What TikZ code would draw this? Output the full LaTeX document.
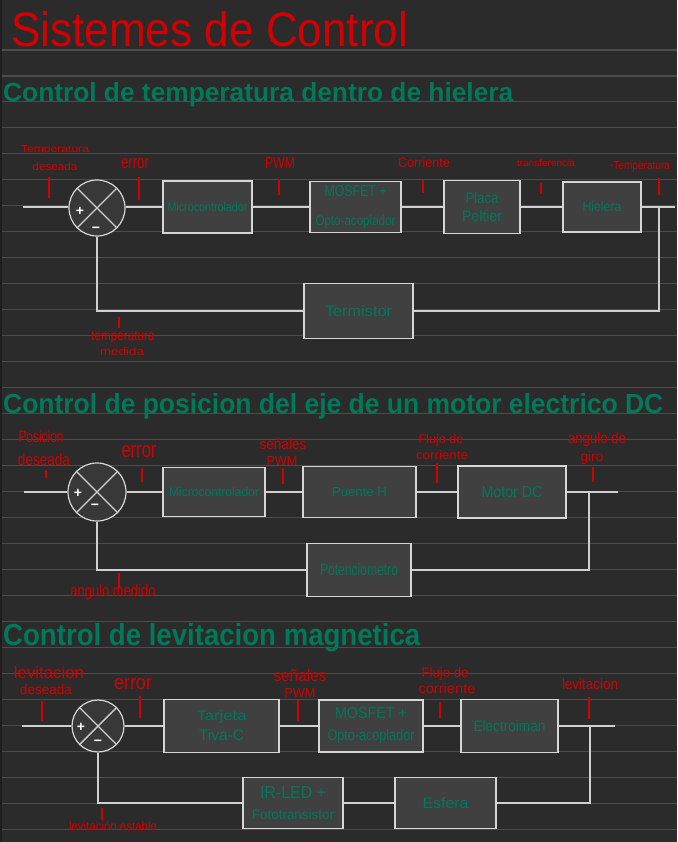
\documentclass[tikz,border=0pt]{standalone}
\usepackage{fontspec}
\setmainfont{Liberation Sans}
\definecolor{bg}{HTML}{2B2B2B}
\definecolor{rulecol}{HTML}{4C4C4C}
\definecolor{edgecol}{HTML}{1E1E1E}
\definecolor{boxfill}{HTML}{404040}
\definecolor{sumfill}{HTML}{383838}
\definecolor{boxline}{HTML}{D6D6D6}
\definecolor{conncol}{HTML}{D0D0D0}
\definecolor{redink}{HTML}{D20000}
\definecolor{greenink}{HTML}{00785A}
\newcommand{\fw}[3]{\resizebox{#1pt}{#2pt}{#3}}
\begin{document}
\begin{tikzpicture}[x=1pt,y=-1pt,
  blk/.style={draw=boxline, fill=boxfill, line width=1.4pt, inner sep=0pt, text=greenink, align=center},
  sumnode/.style={circle, draw=boxline, fill=sumfill, line width=1.2pt, inner sep=0pt},
  conn/.style={draw=conncol, line width=1.4pt},
  tickmark/.style={draw=redink, line width=1.1pt},
  lbl/.style={text=redink, inner sep=0pt},
  hd/.style={text=greenink, inner sep=0pt, anchor=base west, font=\bfseries},
  sgn/.style={text=white, inner sep=0pt, font=\fontsize{14}{14}\selectfont\bfseries}
]
% background and ruling
\fill[bg] (0,0) rectangle (677,842);
\useasboundingbox (0,0) rectangle (677,842);
\fill[edgecol] (0,0) rectangle (2,842);
\foreach \k in {0,...,30} \draw[rulecol, line width=1.1pt] (2,{50+25.97*\k}) -- (677,{50+25.97*\k});

% titles
\node[lbl, anchor=base west] (title) at (11,47) {\fw{397}{35}{Sistemes de Control}};
\node[hd] (h1) at (3,102) {\fw{510}{19}{Control de temperatura dentro de hielera}};
\node[hd] (h2) at (3,413) {\fw{660}{20}{Control de posicion del eje de un motor electrico DC}};
\node[hd] (h3) at (3,645) {\fw{417}{22}{Control de levitacion magnetica}};

% ================= Diagram 1 =================
\node[sumnode, minimum size=56pt] (s1) at (97,208) {};
\draw[conn] (s1.north west) -- (s1.south east) (s1.north east) -- (s1.south west);
\node[sgn] (p1) at (80,211) {+};
\node[sgn] (m1) at (96,230) {−};
\node[blk, minimum width=89pt, minimum height=52pt] (a1) at (207.5,207) {\fw{80}{9}{Microcontrolador}};
\node[blk, minimum width=91pt, minimum height=51pt, font=\fontsize{10}{29pt}\selectfont] (a2) at (355.5,207) {\fw{62}{11}{MOSFET +}\\\fw{80}{10}{Opto-acoplador}};
\node[blk, minimum width=76pt, minimum height=53pt, font=\fontsize{10}{18pt}\selectfont] (a3) at (482,207) {\fw{33}{11}{Placa}\\\fw{40}{11}{Peltier}};
\node[blk, minimum width=78pt, minimum height=50pt] (a4) at (602,207) {\fw{39}{10}{Hielera}};
\node[blk, minimum width=109pt, minimum height=55pt] (a5) at (358.5,311) {\fw{67}{11}{Termistor}};
\coordinate (in1) at (23,207);
\coordinate (o1) at (659,207);
\coordinate (out1) at (675,207);
\draw[conn] (in1) -- (in1 -| s1.west);
\draw[conn] (s1.east |- in1) -- (a1.west);
\draw[conn] (a1.east) -- (a2.west);
\draw[conn] (a2.east) -- (a3.west);
\draw[conn] (a3.east) -- (a4.west);
\draw[conn] (a4.east) -- (out1);
\draw[conn] (o1) |- (a5.east);
\draw[conn] (a5.west) -| (s1.south);
% labels
\node[lbl] (l1a) at (55,150) {\fw{68}{7}{Temperatura}};
\node[lbl] (l1b) at (55,167) {\fw{45}{8}{deseada}};
\node[lbl] (l1c) at (135,164) {\fw{28}{10}{error}};
\node[lbl] (l1d) at (280,163) {\fw{30}{11}{PWM}};
\node[lbl] (l1e) at (424,163) {\fw{52}{10}{Corriente}};
\node[lbl] (l1f) at (546,163) {\fw{58}{7}{transferencia}};
\node[lbl] (l1g) at (640,167) {\fw{60}{8}{-Temperatura}};
\node[lbl] (l1h) at (123,337) {\fw{63}{9}{temperatura}};
\node[lbl] (l1i) at (122,352) {\fw{44}{8}{medida}};
\draw[tickmark] (49,177) -- (49,198);
\draw[tickmark] (139,177) -- (139,200);
\draw[tickmark] (279,179) -- (279,195);
\draw[tickmark] (423,180) -- (423,193);
\draw[tickmark] (541,183) -- (541,194);
\draw[tickmark] (659,178) -- (659,195);
\draw[tickmark] (119,317) -- (119,328);

% ================= Diagram 2 =================
\node[sumnode, minimum size=58pt] (s2) at (97,492) {};
\draw[conn] (s2.north west) -- (s2.south east) (s2.north east) -- (s2.south west);
\node[sgn] (p2) at (78,493) {+};
\node[sgn] (m2) at (95,507) {−};
\node[blk, minimum width=102pt, minimum height=49pt] (b1) at (214,492) {\fw{90}{9}{Microcontrolador}};
\node[blk, minimum width=113pt, minimum height=51pt] (b2) at (359.5,492) {\fw{55}{9}{Puente H}};
\node[blk, minimum width=108pt, minimum height=52pt] (b3) at (512,492) {\fw{61}{11}{Motor DC}};
\node[blk, minimum width=104pt, minimum height=53pt] (b4) at (359,570) {\fw{78}{12}{Potenciometro}};
\coordinate (in2) at (24,492);
\coordinate (o2) at (589,492);
\coordinate (out2) at (618,492);
\draw[conn] (in2) -- (s2.west);
\draw[conn] (s2.east) -- (b1.west);
\draw[conn] (b1.east) -- (b2.west);
\draw[conn] (b2.east) -- (b3.west);
\draw[conn] (b3.east) -- (out2);
\draw[conn] (o2) |- (b4.east);
\draw[conn] (b4.west) -| (s2.south);
\node[lbl] (l2a) at (41,437) {\fw{45}{12}{Posicion}};
\node[lbl] (l2b) at (44,460) {\fw{52}{12}{deseada}};
\node[lbl] (l2c) at (139,452) {\fw{35}{12}{error}};
\node[lbl] (l2d) at (283,444) {\fw{47}{11}{señales}};
\node[lbl] (l2e) at (282,461) {\fw{31}{9}{PWM}};
\node[lbl] (l2f) at (441,440) {\fw{45}{9}{Flujo de}};
\node[lbl] (l2g) at (442,455) {\fw{52}{9}{corriente}};
\node[lbl] (l2h) at (597,440) {\fw{58}{11}{angulo de}};
\node[lbl] (l2i) at (592,458) {\fw{23}{10}{giro}};
\node[lbl] (l2j) at (113,592) {\fw{85}{12}{angulo medido}};
\draw[tickmark] (46,470) -- (46,478);
\draw[tickmark] (142,468) -- (142,482);
\draw[tickmark] (283,468) -- (283,484);
\draw[tickmark] (437,463) -- (437,483);
\draw[tickmark] (593,467) -- (593,482);
\draw[tickmark] (119,573) -- (119,588);

% ================= Diagram 3 =================
\node[sumnode, minimum size=52pt] (s3) at (98,726) {};
\draw[conn] (s3.north west) -- (s3.south east) (s3.north east) -- (s3.south west);
\node[sgn] (p3) at (81,727) {+};
\node[sgn] (m3) at (98,743) {−};
\node[blk, minimum width=115pt, minimum height=53pt, font=\fontsize{10}{20pt}\selectfont] (c1) at (221.5,726) {\fw{50}{10}{Tarjeta}\\\fw{45}{11}{Tiva-C}};
\node[blk, minimum width=104pt, minimum height=52pt, font=\fontsize{10}{22pt}\selectfont] (c2) at (371,726) {\fw{72}{11}{MOSFET +}\\\fw{87}{11}{Opto-acoplador}};
\node[blk, minimum width=97pt, minimum height=53pt] (c3) at (509.5,726) {\fw{72}{11}{Electroiman}};
\node[blk, minimum width=101pt, minimum height=51pt] (c4) at (445.5,803) {\fw{46}{11}{Esfera}};
\node[blk, minimum width=100pt, minimum height=51pt, font=\fontsize{10}{21pt}\selectfont] (c5) at (293,803) {\fw{66}{12}{IR-LED +}\\\fw{82}{10}{Fototransistor}};
\coordinate (in3) at (22,726);
\coordinate (o3) at (590,726);
\coordinate (out3) at (615,726);
\draw[conn] (in3) -- (s3.west);
\draw[conn] (s3.east) -- (c1.west);
\draw[conn] (c1.east) -- (c2.west);
\draw[conn] (c2.east) -- (c3.west);
\draw[conn] (c3.east) -- (out3);
\draw[conn] (o3) |- (c4.east);
\draw[conn] (c4.west) -- (c5.east);
\draw[conn] (c5.west) -| (s3.south);
\node[lbl] (l3a) at (49,673) {\fw{70}{12}{levitacion}};
\node[lbl] (l3b) at (46,690) {\fw{52}{10}{deseada}};
\node[lbl] (l3c) at (133,684) {\fw{38}{11}{error}};
\node[lbl] (l3d) at (300,676) {\fw{53}{12}{señales}};
\node[lbl] (l3e) at (300,693) {\fw{31}{9}{PWM}};
\node[lbl] (l3f) at (445,674) {\fw{47}{10}{Flujo de}};
\node[lbl] (l3g) at (447,689) {\fw{57}{10}{corriente}};
\node[lbl] (l3h) at (590,684) {\fw{56}{11}{levitacion}};
\node[lbl] (l3i) at (113,826) {\fw{88}{9}{levitación estable}};
\draw[tickmark] (42,701) -- (42,721);
\draw[tickmark] (140,696) -- (140,718);
\draw[tickmark] (298,700) -- (298,721);
\draw[tickmark] (440,702) -- (440,718);
\draw[tickmark] (589,697) -- (589,719);
\draw[tickmark] (102,808) -- (102,820);
\end{tikzpicture}
\end{document}
